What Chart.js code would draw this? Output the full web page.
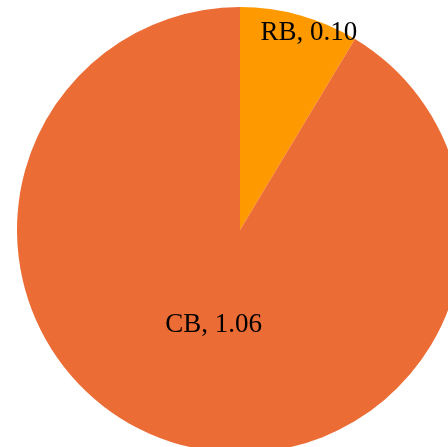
<!DOCTYPE html>
<html>
<head>
<meta charset="utf-8">
<script src="https://cdn.jsdelivr.net/npm/chart.js@4.4.0/dist/chart.umd.min.js"></script>
<style>
  html, body { margin: 0; padding: 0; background: #fff; }
  #frame { position: relative; width: 448px; height: 447px; overflow: hidden; }
  #pieWrap { position: absolute; left: 17px; top: 7px; width: 446px; height: 446px; }
</style>
</head>
<body>
<div id="frame">
  <div id="pieWrap"><canvas id="pieChart" width="446" height="446"></canvas></div>
</div>
<script>
// === DATA ===
const labels = ["RB", "CB"];
const values = [0.10, 1.06];
const colors = ["#FF9900", "#EB6C34"];
// where each label sits: fraction of radius, fraction across the slice angle
const labelRadius = [0.936, 0.441];
const labelAngle = [0.62, 0.5];

// === LABEL PLUGIN ===
const sliceLabels = {
  id: "sliceLabels",
  afterDatasetsDraw(chart) {
    const ctx = chart.ctx;
    const arcs = chart.getDatasetMeta(0).data;
    ctx.save();
    ctx.font = "27px 'Liberation Serif', 'Times New Roman', serif";
    ctx.fillStyle = "#000";
    ctx.textAlign = "center";
    ctx.textBaseline = "middle";
    arcs.forEach((arc, i) => {
      const a = arc.startAngle + (arc.endAngle - arc.startAngle) * labelAngle[i];
      const r = arc.outerRadius * labelRadius[i];
      const x = arc.x + Math.cos(a) * r;
      const y = arc.y + Math.sin(a) * r;
      ctx.fillText(labels[i] + ", " + values[i].toFixed(2), x, y);
    });
    ctx.restore();
  }
};

const ctx = document.getElementById("pieChart").getContext("2d");
new Chart(ctx, {
  type: "pie",
  data: {
    labels: labels,
    datasets: [{ data: values, backgroundColor: colors, borderWidth: 0 }]
  },
  options: {
    responsive: false,
    animation: false,
    layout: { padding: 0 },
    plugins: { legend: { display: false }, tooltip: { enabled: false } }
  },
  plugins: [sliceLabels]
});
</script>
</body>
</html>
